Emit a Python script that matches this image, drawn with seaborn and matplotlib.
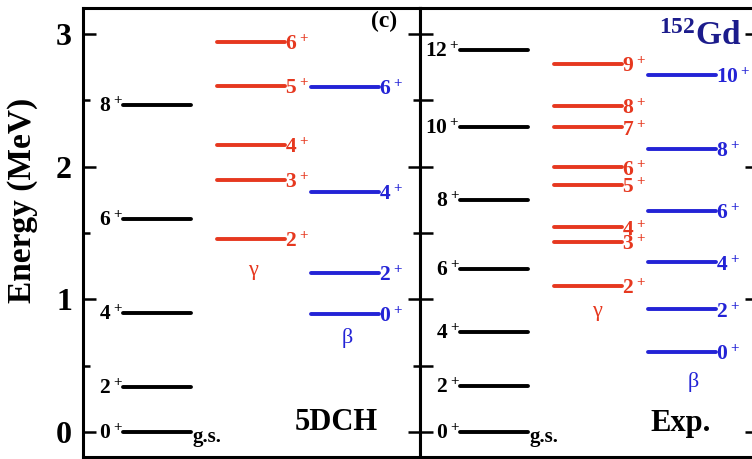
import matplotlib
matplotlib.use("Agg")
import matplotlib.pyplot as plt
import seaborn as sns
import pandas as pd
from matplotlib.ticker import MultipleLocator

# Niveis calculados (5DCH)
calc_gs_spin = [0, 2, 4, 6, 8]
calc_gs_E = [0.0, 0.34, 0.894, 1.605, 2.464]
calc_gam_spin = [2, 3, 4, 5, 6]
calc_gam_E = [1.454, 1.899, 2.163, 2.607, 2.939]
calc_beta_spin = [0, 2, 4, 6]
calc_beta_E = [0.889, 1.198, 1.808, 2.60]

# Niveis experimentais (152Gd)
exp_gs_spin = [0, 2, 4, 6, 8, 10, 12]
exp_gs_E = [0.0, 0.344, 0.755, 1.227, 1.747, 2.300, 2.880]
exp_gam_spin = [2, 3, 4, 5, 6, 7, 8, 9]
exp_gam_E = [1.102, 1.434, 1.542, 1.861, 1.995, 2.296, 2.457, 2.774]
exp_beta_spin = [0, 2, 4, 6, 8, 10]
exp_beta_E = [0.605, 0.925, 1.279, 1.666, 2.133, 2.69]

band_col = {"gs": 0, "gamma": 1, "beta": 2}
palette = {"gs": "black", "gamma": "#e6381f", "beta": "#2323d6"}
half = 0.36


def montar_df(niveis):
    linhas = []
    for band, spins, energias in niveis:
        c = band_col[band]
        for s, e in zip(spins, energias):
            uid = f"{band}_{s}"
            linhas.append({"x": c - half, "E": e, "band": band, "nivel": uid})
            linhas.append({"x": c + half, "E": e, "band": band, "nivel": uid})
    return pd.DataFrame(linhas)


sns.set_theme(style="white")
plt.rcParams["font.family"] = ["Liberation Serif", "DejaVu Serif"]
plt.rcParams["font.weight"] = "bold"
plt.rcParams["text.color"] = "black"
plt.rcParams["axes.labelcolor"] = "black"
plt.rcParams["ytick.color"] = "black"
plt.rcParams["mathtext.fontset"] = "custom"
plt.rcParams["mathtext.rm"] = "Liberation Serif:bold"
plt.rcParams["mathtext.bf"] = "Liberation Serif:bold"
plt.rcParams["mathtext.default"] = "rm"

fig = plt.figure(figsize=(7.52, 4.59), dpi=100)
ax1 = fig.add_axes([83 / 752, 2 / 459, 337 / 752, 449 / 459])
ax2 = fig.add_axes([420 / 752, 2 / 459, 337 / 752, 449 / 459])

paineis = [
    (ax1, [("gs", calc_gs_spin, calc_gs_E), ("gamma", calc_gam_spin, calc_gam_E),
           ("beta", calc_beta_spin, calc_beta_E)]),
    (ax2, [("gs", exp_gs_spin, exp_gs_E), ("gamma", exp_gam_spin, exp_gam_E),
           ("beta", exp_beta_spin, exp_beta_E)]),
]

for ax, niveis in paineis:
    df = montar_df(niveis)
    sns.lineplot(data=df, x="x", y="E", hue="band", units="nivel", estimator=None,
                 palette=palette, linewidth=2.8, legend=False, sort=False, ax=ax)
    # rotulos de spin
    for band, spins, energias in niveis:
        c = band_col[band]
        for s, e in zip(spins, energias):
            if band == "gs":
                ax.text(c - half - 0.005, e - 0.015, f"${s}^+$", ha="right", va="center",
                        fontsize=15.5, color="black")
            else:
                ax.text(c + half + 0.005, e - 0.025, f"${s}^+$", ha="left", va="center",
                        fontsize=15.5, color=palette[band])
    ax.text(half + 0.02, -0.04, "g.s.", ha="left", va="center", fontsize=15)

    ax.set_xlim(-0.787, 2.80)
    ax.set_ylim(-0.188, 3.195)
    ax.set_xticks([])
    ax.set_xlabel("")
    ax.yaxis.set_major_locator(MultipleLocator(1))
    ax.yaxis.set_minor_locator(MultipleLocator(0.5))
    for sp in ax.spines.values():
        sp.set_linewidth(2.2)
        sp.set_color("black")

# painel esquerdo
ax1.tick_params(axis="y", which="both", direction="in", left=True, right=True,
                width=1.8, labelsize=23, pad=8)
ax1.tick_params(axis="y", which="major", length=9)
ax1.tick_params(axis="y", which="minor", length=5)
ax1.set_ylabel("Energy (MeV)", fontsize=24, fontweight="bold")
ax1.yaxis.set_label_coords(-0.134, 0.572)
ax1.text(1.02, 1.22, "γ", color=palette["gamma"], fontsize=16, fontweight="normal",
         ha="center", va="center")
ax1.text(2.03, 0.708, "β", color=palette["beta"], fontsize=16, fontweight="normal",
         ha="center", va="center")
ax1.text(1.904, 0.075, "5DCH", fontsize=22, ha="center", va="center")
ax1.text(2.415, 3.09, "(c)", fontsize=17, ha="center", va="center")

# painel direito
ax2.set_ylabel("")
ax2.tick_params(axis="y", which="both", direction="in", left=True, right=True,
                width=1.8, labelleft=False)
ax2.tick_params(axis="y", which="major", length=9)
ax2.tick_params(axis="y", which="minor", length=9, right=False)
ax2.text(1.096, 0.912, "γ", color=palette["gamma"], fontsize=16, fontweight="normal",
         ha="center", va="center")
ax2.text(2.117, 0.377, "β", color=palette["beta"], fontsize=16, fontweight="normal",
         ha="center", va="center")
ax2.text(1.99, 0.068, "Exp.", fontsize=22, ha="center", va="center")
ax2.text(2.20, 2.98, "$^{152}$Gd", fontsize=24, color="#1c1c8c", ha="center", va="center")

fig.savefig("out.png", dpi=100)
